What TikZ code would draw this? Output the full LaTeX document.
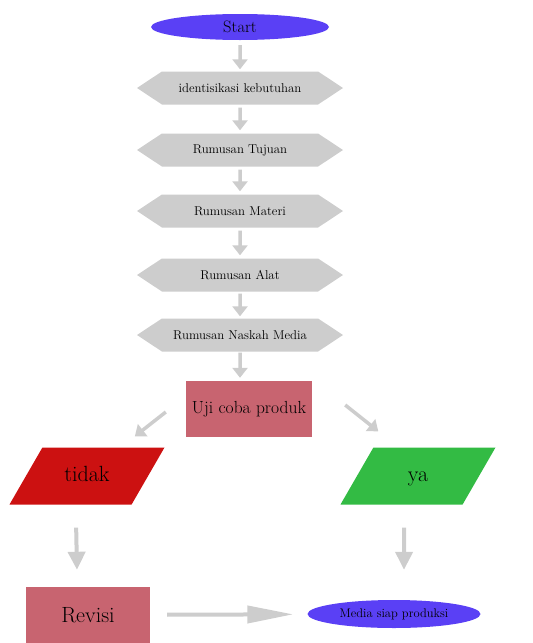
\documentclass[tikz,border=0pt]{standalone}
\usepackage{tikz}
\usetikzlibrary{shapes,arrows.meta,positioning}
\definecolor{ungu}{RGB}{90,64,245}
\definecolor{abu}{RGB}{205,205,205}
\definecolor{merahmuda}{RGB}{200,100,112}
\definecolor{merah}{RGB}{204,17,17}
\definecolor{hijau}{RGB}{51,187,68}

\begin{document}
\begin{tikzpicture}[x=1pt,y=-1pt
        , panah/.style={draw=abu, line width=3.5pt, -{Triangle[length=10pt,width=15pt]}}
        , panahbesar/.style={draw=abu, line width=4pt, -{Triangle[length=18pt,width=17pt]}}
        , hexa/.style={signal, signal to=west and east, signal pointer angle=67
            , fill=abu, minimum width=206pt, minimum height=33pt, inner sep=0pt
            , font=\fontsize{12.8}{15}\selectfont}
        , oval/.style={ellipse, fill=ungu, inner sep=0pt}
        , kotak/.style={rectangle, fill=merahmuda, inner sep=0pt, minimum height=56pt}
        , jajar/.style={trapezium, trapezium left angle=60, trapezium right angle=120
            , trapezium stretches body=true, minimum width=155pt
            , inner xsep=0pt, inner ysep=19pt, text height=15pt, text depth=4pt
            , font=\fontsize{22}{26}\selectfont}
        ]
    \useasboundingbox (0,0) rectangle (533,643);

    \node[oval, minimum width=178pt, minimum height=26pt
        , font=\fontsize{16.5}{19}\selectfont] (start) at (240,27) {Start};

    \node[hexa] (butuh) at (240,88) {identisikasi kebutuhan};
    \node[hexa] (tujuan) at (240,150) {Rumusan Tujuan};
    \node[hexa] (materi) at (240,211) {Rumusan Materi};
    \node[hexa] (alat) at (240,275) {Rumusan Alat};
    \node[hexa] (naskah) at (240,335) {Rumusan Naskah Media};

    \node[kotak, minimum width=126pt, font=\fontsize{17.5}{20}\selectfont] (uji) at (249,409) {Uji coba produk};

    \node[jajar, fill=merah] (tidak) at (87,476) {tidak};
    \node[jajar, fill=hijau] (ya) at (418,476) {ya};

    \node[kotak, minimum width=124pt, font=\fontsize{22}{26}\selectfont] (revisi) at (88,615) {Revisi};
    \node[oval, minimum width=173pt, minimum height=28pt
        , font=\fontsize{12.5}{14}\selectfont] (media) at (394,614) {Media siap produksi};

    % alur utama
    \draw[panah, shorten <=5pt, shorten >=2pt] (start) -- (butuh);
    \draw[panah, shorten <=3pt, shorten >=3pt] (butuh) -- (tujuan);
    \draw[panah, shorten <=3pt, shorten >=3pt] (tujuan) -- (materi);
    \draw[panah, shorten <=3pt, shorten >=3pt] (materi) -- (alat);
    \draw[panah, shorten <=2pt, shorten >=2pt] (alat) -- (naskah);
    \draw[panah, shorten <=1pt, shorten >=3pt] (naskah) -- (naskah |- uji.north);

    % cabang
    \draw[panah] ([shift={(-20,3)}]uji.west) -- ([shift={(-30,-11)}]tidak.top right corner);
    \draw[panah] ([shift={(33,-4)}]uji.east) -- ([shift={(5,-16)}]ya.top left corner);
    \draw[panahbesar] ([shift={(67,23)}]tidak.bottom left corner) -- ([shift={(-11,-17)}]revisi.north);
    \draw[panahbesar] ([shift={(64,23)}]ya.bottom left corner) -- ([shift={(10,-30)}]media.north);
    \draw[panahbesar, -{Triangle[length=46pt,width=17pt]}, shorten <=17pt, shorten >=14pt] (revisi) -- (media);
\end{tikzpicture}
\end{document}
